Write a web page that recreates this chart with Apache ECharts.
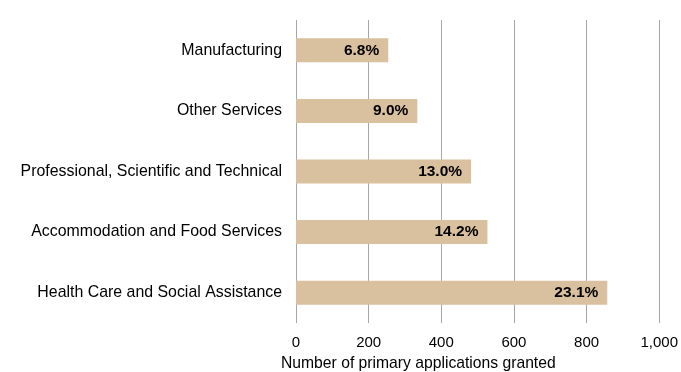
<!DOCTYPE html>
<html>
<head>
<meta charset="utf-8">
<script src="https://cdn.jsdelivr.net/npm/echarts@6/dist/echarts.min.js"></script>
<style>
  html, body { margin: 0; padding: 0; background: #fff; }
  #chart { width: 681px; height: 372px; }
</style>
</head>
<body>
<div id="chart"></div>
<script>
// Industries, listed top to bottom
const industries = [
  'Manufacturing',
  'Other Services',
  'Professional, Scientific and Technical',
  'Accommodation and Food Services',
  'Health Care and Social Assistance'
];
// Number of primary applications granted per industry
const granted = [254, 334, 482, 527, 857];
// Share of all primary applications granted
const shares = ['6.8%', '9.0%', '13.0%', '14.2%', '23.1%'];
// Value axis ticks
const xTicks = [0, 200, 400, 600, 800, 1000];

const FONT = 'Liberation Sans, Arial, sans-serif';
const chart = echarts.init(document.getElementById('chart'), null, { renderer: 'canvas' });

chart.setOption({
  animation: false,
  backgroundColor: '#ffffff',
  grid: { left: 296, right: 21, top: 20, bottom: 49, containLabel: false },
  xAxis: {
    type: 'value',
    min: xTicks[0],
    max: xTicks[xTicks.length - 1],
    interval: 200,
    axisLine: { show: false },
    axisTick: { show: false },
    splitLine: { show: true, lineStyle: { color: '#a6a6a6', width: 1 } },
    axisLabel: {
      margin: 12,
      fontFamily: FONT,
      fontSize: 15,
      color: '#000',
      formatter: v => v.toLocaleString('en-US')
    }
  },
  yAxis: {
    type: 'category',
    inverse: true,
    data: industries,
    axisLine: { show: false },
    axisTick: { show: false },
    splitLine: { show: false },
    axisLabel: {
      margin: 14,
      fontFamily: FONT,
      fontSize: 15.9,
      color: '#000'
    }
  },
  graphic: [{
    type: 'text',
    left: 281,
    top: 356,
    style: {
      text: 'Number of primary applications granted',
      font: '15.7px ' + FONT,
      fill: '#000'
    }
  }],
  series: [{
    type: 'bar',
    data: granted,
    barWidth: 24,
    itemStyle: { color: '#d9c09e' },
    label: {
      show: true,
      position: 'insideRight',
      distance: 9,
      fontFamily: FONT,
      fontSize: 15.5,
      fontWeight: 'bold',
      color: '#000',
      formatter: p => shares[p.dataIndex]
    }
  }]
});
</script>
</body>
</html>
